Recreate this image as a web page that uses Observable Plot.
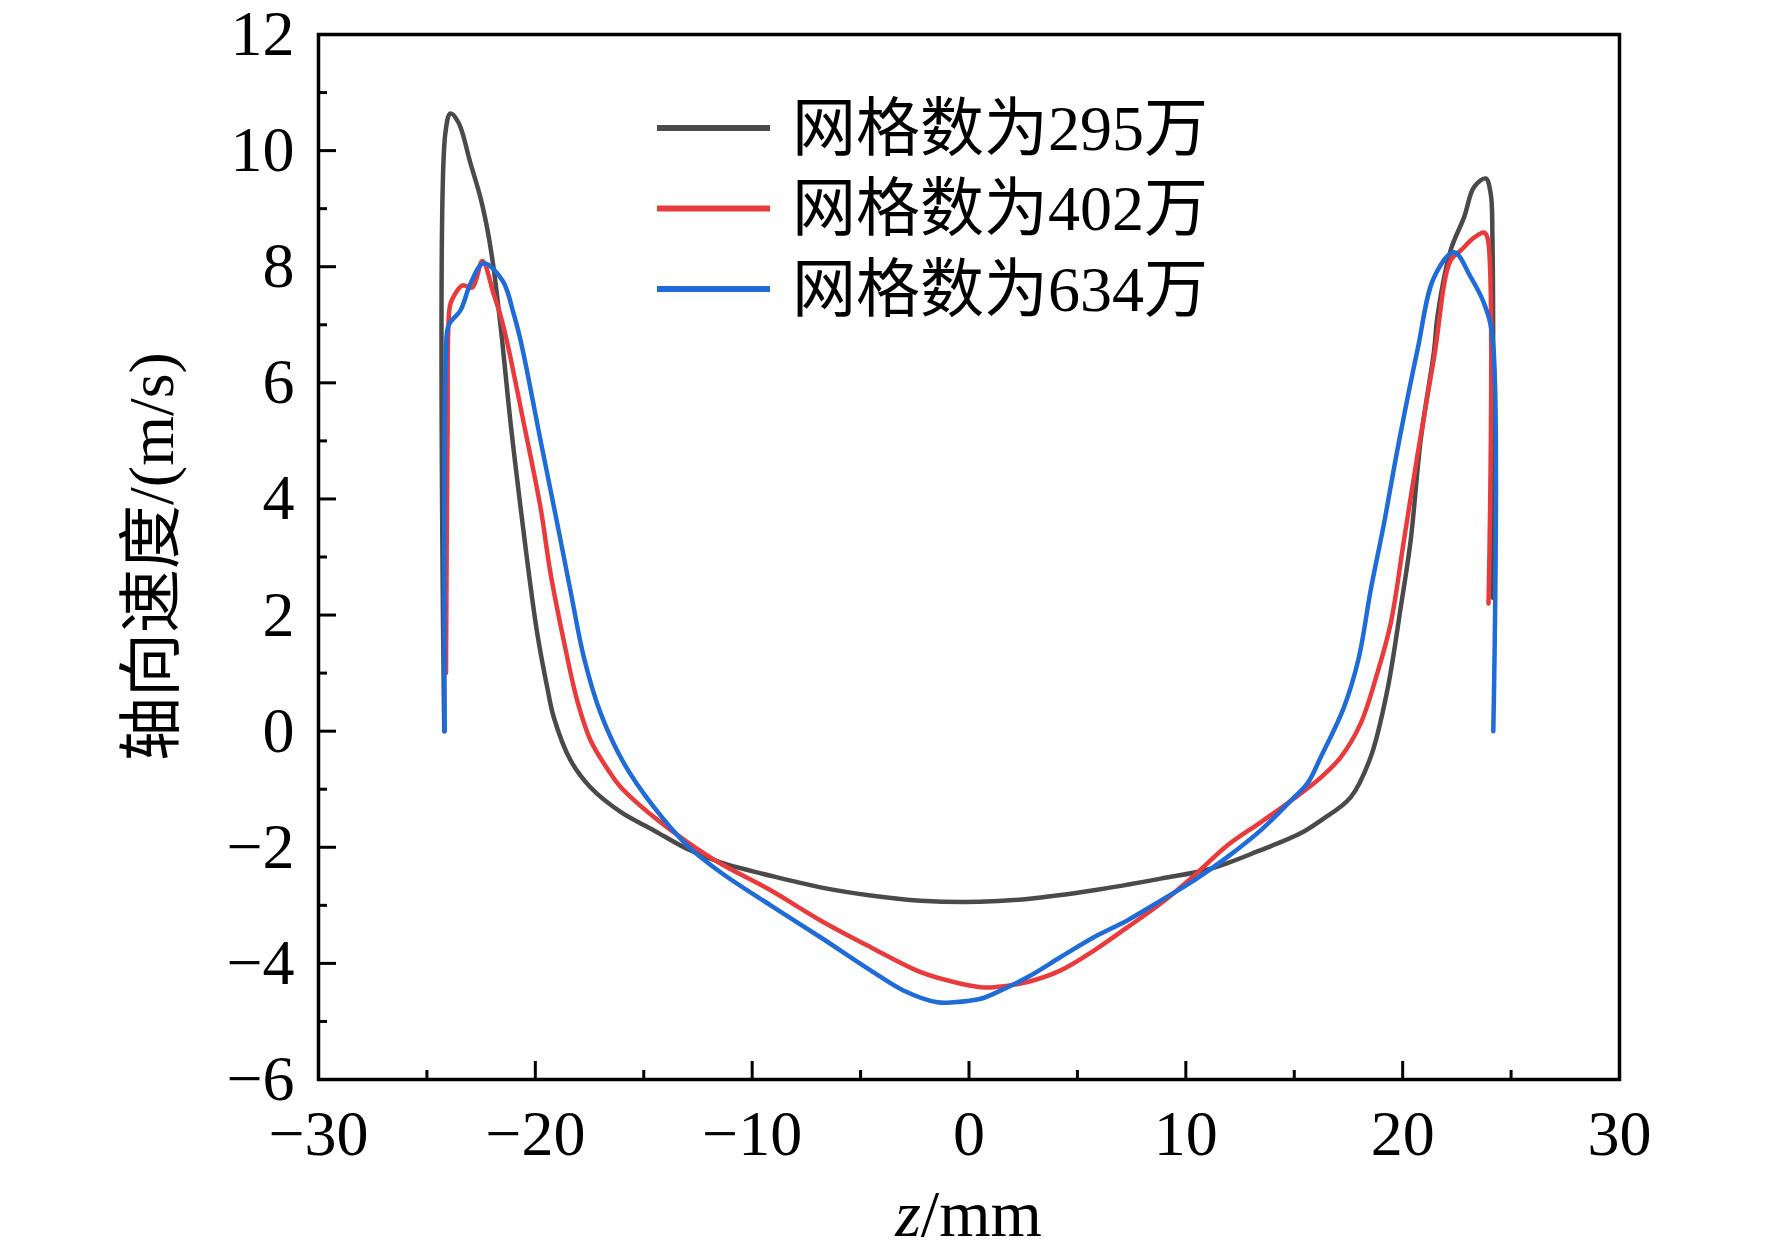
<!DOCTYPE html>
<html><head><meta charset="utf-8">
<script src="https://cdn.jsdelivr.net/npm/d3@7"></script>
<script src="https://cdn.jsdelivr.net/npm/@observablehq/plot@0.6"></script>
<style>body{margin:0;background:#fff} svg{display:block}</style>
</head><body><div id="chart"></div>
<script>
const seriesNames = ["网格数为295万", "网格数为402万", "网格数为634万"];
const seriesColors = ["#4a4a4a", "#e93a3c", "#1f6cd8"];

const z295 = [-24.2, -24.15, -23.91, -23.54, -22.99, -22.53, -22.2, -21.93, -21.53, -21.14, -20.68, -20.3, -19.91, -19.45, -19.15, -18.38, -17.45, -16.07, -14.53, -12.99, -11.46, -9.15, -6.85, -4.54, -2.23, 0.5, 2.69, 5.76, 8.84, 11.14, 13.45, 15.29, 16.22, 17.6, 18.52, 19.29, 19.91, 20.37, 20.83, 21.45, 21.6, 22.21, 22.83, 23.29, 23.83, 24.06, 24.14, 24.16];
const v295 = [0, 10.3, 10.64, 10.48, 9.78, 9.19, 8.62, 7.99, 6.73, 5.3, 3.85, 2.72, 1.68, 0.75, 0.24, -0.5, -0.97, -1.39, -1.71, -2.03, -2.26, -2.49, -2.69, -2.83, -2.92, -2.94, -2.89, -2.74, -2.54, -2.37, -2.05, -1.76, -1.54, -1.14, -0.45, 0.7, 2.13, 3.29, 5.01, 6.56, 7.13, 8.28, 8.85, 9.37, 9.52, 9.26, 8.5, 2.3];

const z402 = [-24.12, -24.05, -23.95, -23.82, -23.36, -22.9, -22.44, -21.93, -21.6, -21.3, -20.53, -19.76, -19.3, -18.69, -18.07, -17.45, -16.53, -16.07, -14.53, -12.99, -11.46, -9.15, -6.85, -4.54, -2.23, -0.7, 0.54, 1.15, 2.69, 4.23, 5.76, 7.3, 8.84, 10.38, 11.91, 13.45, 14.99, 16.22, 17.14, 18.06, 18.83, 19.45, 20.06, 20.68, 21.45, 22.21, 22.68, 23.29, 23.75, 23.91, 23.96];
const v402 = [1.0, 5.0, 7.3, 7.45, 7.68, 7.64, 8.1, 7.54, 7.15, 6.7, 5.3, 3.85, 2.72, 1.56, 0.53, -0.16, -0.73, -0.96, -1.48, -1.91, -2.28, -2.74, -3.26, -3.72, -4.15, -4.32, -4.41, -4.41, -4.32, -4.12, -3.78, -3.38, -2.97, -2.49, -1.97, -1.57, -1.16, -0.8, -0.45, 0.13, 1.0, 1.86, 3.29, 4.75, 6.44, 8.11, 8.28, 8.5, 8.59, 8.5, 2.2];

const z634 = [-24.18, -24.12, -24.0, -23.45, -22.99, -22.39, -21.51, -21.0, -20.68, -20.36, -19.76, -18.99, -18.38, -17.76, -16.99, -15.92, -14.53, -12.99, -11.46, -9.15, -6.85, -4.54, -3.0, -1.46, -0.7, 0.54, 1.15, 2.69, 4.23, 5.76, 7.3, 8.84, 10.38, 11.91, 13.45, 14.99, 15.61, 16.22, 17.29, 17.98, 18.52, 19.14, 19.75, 20.68, 21.45, 22.37, 23.14, 23.75, 24.14, 24.18];
const v634 = [0, 6.5, 6.99, 7.25, 7.71, 8.06, 7.76, 7.19, 6.73, 6.16, 5.01, 3.58, 2.42, 1.27, 0.31, -0.55, -1.31, -1.97, -2.43, -3.0, -3.55, -4.12, -4.47, -4.67, -4.67, -4.61, -4.52, -4.24, -3.89, -3.55, -3.26, -2.92, -2.57, -2.17, -1.71, -1.14, -0.9, -0.45, 0.41, 1.27, 2.42, 3.58, 4.83, 6.56, 7.82, 8.25, 7.82, 7.37, 6.79, 0];

const xTicks = [-30, -20, -10, 0, 10, 20, 30];
const xMinor = [-25, -15, -5, 5, 15, 25];
const yTicks = [-6, -4, -2, 0, 2, 4, 6, 8, 10, 12];
const yMinor = [-5, -3, -1, 1, 3, 5, 7, 9, 11];
const xTitle = ["z", "/mm"];
const yTitle = "轴向速度/(m/s)";

const rows = [];
[[z295, v295], [z402, v402], [z634, v634]].forEach(([zs, vs], i) =>
  zs.forEach((z, j) => rows.push({z, v: vs[j], s: seriesNames[i]})));

const W = 1772, H = 1252, mL = 318, mR = 153, mT = 34, mB = 173;
const plotW = W - mL - mR, plotH = H - mT - mB;
const serif = "'Liberation Serif','Times New Roman','Noto Sans CJK SC',serif";

const chart = Plot.plot({
  width: W, height: H,
  marginLeft: mL, marginRight: mR, marginTop: mT, marginBottom: mB,
  style: {fontFamily: serif, background: "#fff", color: "#000", overflow: "visible"},
  x: {domain: [-30, 30]},
  y: {domain: [-6, 12]},
  color: {domain: seriesNames, range: seriesColors},
  marks: [
    Plot.line(rows, {x: "z", y: "v", z: "s", stroke: "s", strokeWidth: 4.5, curve: "catmull-rom"}),
    Plot.tickX(xTicks, {x: d => d, insetTop: plotH - 18, strokeWidth: 3}),
    Plot.tickX(xMinor, {x: d => d, insetTop: plotH - 9, strokeWidth: 3}),
    Plot.tickY(yTicks, {y: d => d, insetRight: plotW - 18, strokeWidth: 3}),
    Plot.tickY(yMinor, {y: d => d, insetRight: plotW - 9, strokeWidth: 3}),
    Plot.axisX({ticks: xTicks, tickSize: 0, tickPadding: 30, fontSize: 64, label: null}),
    Plot.axisY({ticks: yTicks, tickSize: 0, tickPadding: 24, fontSize: 64, label: null}),
    Plot.frame({stroke: "#000", strokeWidth: 3.5})
  ]
});
document.getElementById("chart").appendChild(chart);

const svg = d3.select(chart);
// x title
const xt = svg.append("text")
  .attr("x", mL + plotW / 2).attr("y", 1236)
  .attr("text-anchor", "middle")
  .attr("font-family", serif).attr("font-size", 66).attr("fill", "#000");
xt.append("tspan").attr("font-style", "italic").text(xTitle[0]);
xt.append("tspan").text(xTitle[1]);
// y title
svg.append("text")
  .attr("transform", `translate(151,${mT + plotH / 2}) rotate(-90)`)
  .attr("text-anchor", "middle").attr("dominant-baseline", "central")
  .attr("font-family", serif).attr("font-size", 64).attr("fill", "#000")
  .text(yTitle);
// legend
const leg = svg.append("g");
seriesNames.forEach((name, i) => {
  const y = 128 + i * 80.5;
  leg.append("line").attr("x1", 657).attr("x2", 770).attr("y1", y).attr("y2", y)
    .attr("stroke", seriesColors[i]).attr("stroke-width", 6);
  leg.append("text").attr("x", 792).attr("y", y)
    .attr("text-anchor", "start").attr("dominant-baseline", "central")
    .attr("font-family", serif).attr("font-size", 64).attr("fill", "#000").text(name);
});
</script>
</body></html>
